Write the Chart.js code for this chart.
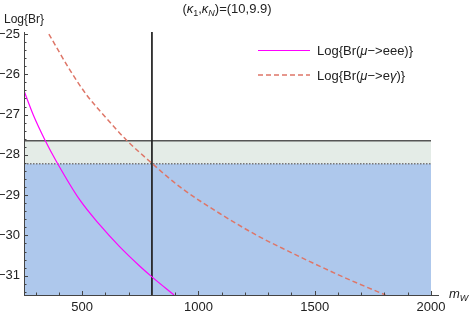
<!DOCTYPE html>
<html>
<head>
<meta charset="utf-8">
<script src="https://cdn.jsdelivr.net/npm/chart.js@4.4.1/dist/chart.umd.min.js"></script>
<style>
  html, body { margin: 0; padding: 0; background: #fff; }
</style>
</head>
<body>
<canvas id="Chart" width="469" height="311"></canvas>
<script>
// values
const eeeX = [250, 290, 340, 390, 490, 576, 661, 747, 800, 895];
const eeeY = [-26.41, -27.01, -27.63, -28.17, -29.12, -29.74, -30.28, -30.76, -31.03, -31.48];

const egX = [357, 447, 519, 604, 690, 800, 919, 1090, 1261, 1361, 1490, 1633, 1804];
const egY = [-25.0, -25.89, -26.51, -27.09, -27.63, -28.21, -28.79, -29.45, -30.03, -30.32, -30.68, -31.06, -31.48];

const mW = 800;
const limitUpper = -27.65;
const limitLower = -28.22;

const xRange = [250, 2000];
const yRange = [-31.48, -24.95];

const xLabels = [500, 1000, 1500, 2000];
const yLabels = [-31, -30, -29, -28, -27, -26, -25];

const FONT = '"Liberation Sans", Arial, sans-serif';

const xTickVals = [];
for (let v = 300; v <= 2000; v += 100) xTickVals.push(v);
const yTickVals = [];
for (let v = -314; v <= -250; v += 2) yTickVals.push(v / 10);

const isLabel = (list, v) => list.some(l => Math.abs(l - v) < 1e-6);

function pts(xs, ys) {
    return xs.map((x, i) => ({x: x, y: ys[i]}));
}

// draws a run of text pieces with their own fonts / offsets
function richText(ctx, parts, x, y, align) {
    let w = 0;
    parts.forEach(p => { ctx.font = p.font; w += ctx.measureText(p.t).width; });
    let cx = align === 'center' ? x - w / 2 : x;
    parts.forEach(p => {
        ctx.font = p.font;
        ctx.fillText(p.t, cx, y + (p.dy || 0));
        cx += ctx.measureText(p.t).width;
    });
}

const decorations = {
    id: 'decorations',
    afterDatasetsDraw(chart) {
        const ctx = chart.ctx;
        const xs = chart.scales.x, ys = chart.scales.y;
        const area = chart.chartArea;
        ctx.save();
        ctx.strokeStyle = '#444';
        ctx.lineWidth = 1;
        ctx.beginPath();
        ctx.moveTo(area.left + 0.5, area.top);
        ctx.lineTo(area.left + 0.5, area.bottom);
        ctx.moveTo(area.left, area.bottom + 0.5);
        ctx.lineTo(area.right + 8, area.bottom + 0.5);
        xTickVals.forEach(v => {
            const px = Math.round(xs.getPixelForValue(v)) + 0.5;
            const len = isLabel(xLabels, v) ? 4 : 2.5;
            ctx.moveTo(px, area.bottom);
            ctx.lineTo(px, area.bottom - len);
        });
        yTickVals.forEach(v => {
            const py = Math.round(ys.getPixelForValue(v)) + 0.5;
            const len = isLabel(yLabels, v) ? 4 : 2.5;
            ctx.moveTo(area.left, py);
            ctx.lineTo(area.left + len, py);
        });
        ctx.stroke();
        ctx.restore();
    },
    afterDraw(chart) {
        const ctx = chart.ctx;
        const area = chart.chartArea;
        ctx.save();
        ctx.fillStyle = '#222';
        ctx.textBaseline = 'alphabetic';
        const n = '13px ' + FONT, it = 'italic 13px ' + FONT;
        const sub = '9px ' + FONT, subIt = 'italic 9px ' + FONT;

        richText(ctx, [
            {t: '(', font: n}, {t: 'κ', font: it}, {t: '1', font: sub, dy: 3},
            {t: ',', font: n}, {t: 'κ', font: it}, {t: 'N', font: subIt, dy: 3},
            {t: ')=(10,9.9)', font: n}
        ], 227, 13, 'center');

        ctx.font = '12px ' + FONT;
        ctx.fillText('Log{Br}', 4, 23);

        richText(ctx, [{t: 'm', font: it}, {t: 'W', font: subIt, dy: 3}], area.right + 18, 298);

        // legend
        ctx.lineWidth = 1.2;
        ctx.strokeStyle = '#ff00ff';
        ctx.beginPath();
        ctx.moveTo(258, 50.5); ctx.lineTo(310, 50.5);
        ctx.stroke();
        ctx.lineWidth = 1.5;
        ctx.strokeStyle = 'rgb(222,118,104)';
        ctx.setLineDash([5, 3]);
        ctx.beginPath();
        ctx.moveTo(258, 75); ctx.lineTo(310, 75);
        ctx.stroke();
        ctx.setLineDash([]);
        richText(ctx, [{t: 'Log{Br(', font: n}, {t: 'μ', font: it}, {t: '−>eee)}', font: n}], 317, 55);
        richText(ctx, [{t: 'Log{Br(', font: n}, {t: 'μ', font: it}, {t: '−>e', font: n},
            {t: 'γ', font: it}, {t: ')}', font: n}], 317, 80);
        ctx.restore();
    }
};

new Chart(document.getElementById('Chart'), {
    type: 'line',
    data: {
        datasets: [{
            label: 'Log{Br(μ−>eee)}',
            data: pts(eeeX, eeeY),
            borderColor: '#ff00ff',
            borderWidth: 1.2,
            pointRadius: 0,
            cubicInterpolationMode: 'monotone',
            fill: false,
            order: 1
        }, {
            label: 'Log{Br(μ−>eγ)}',
            data: pts(egX, egY),
            borderColor: 'rgb(222,118,104)',
            borderWidth: 1.5,
            borderDash: [5, 3],
            pointRadius: 0,
            cubicInterpolationMode: 'monotone',
            fill: false,
            order: 1
        }, {
            label: 'mW',
            data: [{x: mW, y: yRange[1]}, {x: mW, y: yRange[0]}],
            borderColor: '#222',
            borderWidth: 1,
            pointRadius: 0,
            fill: false,
            order: 2
        }, {
            label: 'upper',
            data: [{x: xRange[0], y: limitUpper}, {x: xRange[1], y: limitUpper}],
            borderColor: '#555',
            borderWidth: 1.5,
            backgroundColor: '#e4ece7',
            pointRadius: 0,
            fill: '+1',
            order: 6
        }, {
            label: 'lower',
            data: [{x: xRange[0], y: limitLower}, {x: xRange[1], y: limitLower}],
            borderColor: '#777',
            borderWidth: 1.5,
            borderDash: [1.5, 1.5],
            backgroundColor: '#aec8ec',
            pointRadius: 0,
            fill: 'start',
            order: 5
        }]
    },
    options: {
        responsive: false,
        animation: false,
        devicePixelRatio: 1,
        layout: {padding: {top: 32, right: 38, bottom: 0, left: 0}},
        plugins: {
            legend: {display: false},
            title: {display: false},
            tooltip: {enabled: false}
        },
        scales: {
            x: {
                type: 'linear',
                min: xRange[0],
                max: xRange[1],
                grid: {display: false, drawTicks: false},
                border: {display: false},
                afterBuildTicks: s => { s.ticks = xTickVals.map(v => ({value: v})); },
                afterFit: s => { s.height = 16; },
                ticks: {
                    autoSkip: false,
                    maxRotation: 0,
                    padding: 5,
                    color: '#222',
                    font: {family: FONT, size: 13},
                    callback: v => isLabel(xLabels, v) ? String(v) : ''
                }
            },
            y: {
                type: 'linear',
                min: yRange[0],
                max: yRange[1],
                grid: {display: false, drawTicks: false},
                border: {display: false},
                afterBuildTicks: s => { s.ticks = yTickVals.map(v => ({value: v})); },
                afterFit: s => { s.width = 24; },
                ticks: {
                    autoSkip: false,
                    padding: 4,
                    color: '#222',
                    font: {family: FONT, size: 13},
                    callback: v => isLabel(yLabels, v) ? '−' + Math.abs(Math.round(v)) : ''
                }
            }
        }
    },
    plugins: [decorations]
});
</script>
</body>
</html>
